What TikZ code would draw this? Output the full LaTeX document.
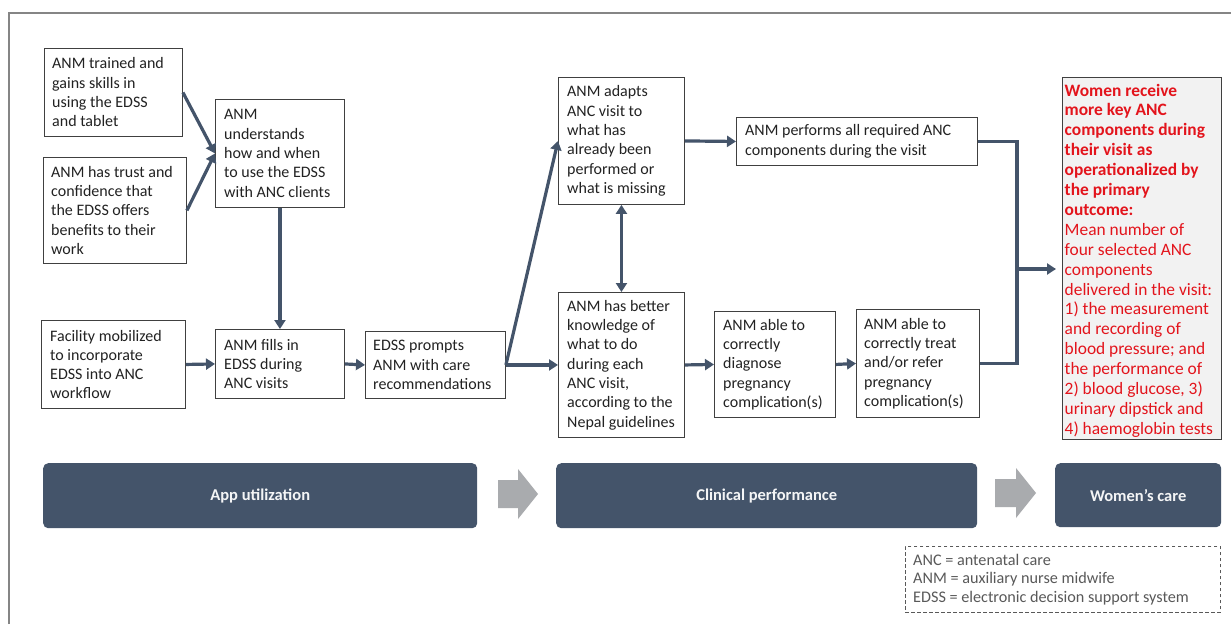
\documentclass[tikz,border=0pt]{standalone}
\usepackage{fontspec}
\setmainfont{Carlito}
\usetikzlibrary{arrows.meta,calc}
\definecolor{slate}{HTML}{44546A}
\definecolor{chev}{HTML}{A9ABAE}
\definecolor{bord}{HTML}{404040}
\definecolor{txt}{HTML}{222222}
\definecolor{redt}{HTML}{E3141C}
\definecolor{jfill}{HTML}{F2F2F2}
\definecolor{framec}{HTML}{858585}
\definecolor{legc}{HTML}{595959}
\newcommand\mybox[7]{%
  \node[boxshape, minimum width=#4pt, minimum height=#5pt] (#1) at (#2,#3) {};
  \node[boxtext] (#1t) at ([xshift=#6pt]#1.west) {#7};}
\begin{document}
\begin{tikzpicture}[x=1pt,y=-1pt,
  boxshape/.style={draw=bord, line width=0.9pt, anchor=north west, inner sep=0pt},
  boxtext/.style={anchor=west, align=left, inner sep=0pt, text=txt, font=\fontsize{16}{19.3}\selectfont},
  conn/.style={draw=slate, line width=3.2pt},
  arr/.style={conn, -{Triangle[length=9pt,width=11pt]}},
  dbl/.style={conn, {Triangle[length=9pt,width=11pt]}-{Triangle[length=9pt,width=11pt]}},
  bar/.style={fill=slate, rounded corners=5pt, anchor=north west, inner sep=0pt, text=white!94!slate, font=\fontsize{16.5}{19}\selectfont\bfseries},
  chevron/.style={fill=chev}
]
\useasboundingbox (0,0) rectangle (1231,624);
\fill[white] (0,0) rectangle (1231,624);
\draw[framec, line width=1.2pt] (9,624) -- (9,13) -- (1231,13);

\mybox{a1}{44}{48}{138}{88}{8}{ANM trained and\\gains skills in\\using the EDSS\\and tablet}
\mybox{a2}{43}{157}{143}{106}{8}{ANM has trust and\\confidence that\\the EDSS offers\\benefits to their\\work}
\mybox{b}{215}{99}{129}{108}{9}{ANM\\understands\\how and when\\to use the EDSS\\with ANC clients}
\mybox{fac}{41}{320}{144}{88}{9}{Facility mobilized\\to incorporate\\EDSS into ANC\\workflow}
\mybox{c}{215}{329}{129}{69}{9}{ANM fills in\\EDSS during\\ANC visits}
\mybox{d}{365}{331}{140}{67}{8}{EDSS prompts\\ANM with care\\recommendations}
\mybox{f}{558}{77}{126}{127}{9}{ANM adapts\\ANC visit to\\what has\\already been\\performed or\\what is missing}
\mybox{e}{558}{292}{126}{145}{9}{ANM has better\\knowledge of\\what to do\\during each\\ANC visit,\\according to the\\Nepal guidelines}
\mybox{g}{736}{117}{241}{48}{9}{ANM performs all required ANC\\components during the visit}
\mybox{h}{714}{311}{121}{106}{9}{ANM able to\\correctly\\diagnose\\pregnancy\\complication(s)}
\mybox{i}{856}{309}{123}{108}{8}{ANM able to\\correctly treat\\and/or refer\\pregnancy\\complication(s)}

\node[boxshape, fill=jfill, line width=1.1pt, minimum width=159pt, minimum height=362pt] (j) at (1062,77) {};
\node[boxtext, text=redt, font=\fontsize{17.4}{19.9}\selectfont] (jt) at ([xshift=2.5pt, yshift=-2pt]j.west) {\textbf{Women receive}\\\textbf{more key ANC}\\\textbf{components during}\\\textbf{their visit as}\\\textbf{operationalized by}\\\textbf{the primary}\\\textbf{outcome:}\\Mean number of\\four selected ANC\\components\\delivered in the visit:\\1) the measurement\\and recording of\\blood pressure; and\\the performance of\\2) blood glucose, 3)\\urinary dipstick and\\4) haemoglobin tests};

\draw[arr] (a1.east) -- (b.west);
\draw[arr] (a2.east) -- (b.west);
\draw[arr] (b.south) -- (c.north);
\draw[arr] (fac.east) -- (c.west);
\draw[arr] (c.east) -- (d.west);
\draw[arr] (d.east) -- (f.west);
\draw[arr] (d.east) -- (e.west);
\draw[dbl] (f.south) -- (e.north);
\draw[arr] (f.east) -- (g.west);
\draw[arr] (e.east) -- (h.west);
\draw[arr] (h.east) -- (i.west);
\coordinate (jn) at (1017,269);
\draw[conn] (g.east) -| (jn);
\draw[conn] (i.east) -| (jn);
\draw[arr, shorten >=6pt] (jn) -- (jn -| j.west);

\node[bar, minimum width=434pt, minimum height=65pt] (app) at (43,463) {App utilization};
\node[bar, minimum width=421pt, minimum height=65pt] (clin) at (556,463) {Clinical performance};
\node[bar, minimum width=166pt, minimum height=64pt] (wom) at (1055,463) {Women’s care};
\fill[chevron] (498,480) -- (518,480) -- (518,469) -- (538,494) -- (518,519) -- (518,508) -- (498,508) -- cycle;
\fill[chevron] (995,479) -- (1016,479) -- (1016,468) -- (1036,493) -- (1016,518) -- (1016,507) -- (995,507) -- cycle;

\node[draw=legc, line width=0.8pt, dash pattern=on 3.5pt off 2.5pt, anchor=north west, minimum width=315pt, minimum height=66pt, inner sep=0pt] (leg) at (905,546) {};
\node[anchor=west, align=left, inner sep=0pt, text=legc, font=\fontsize{16.2}{18.6}\selectfont] (legt) at ([xshift=8pt]leg.west) {ANC = antenatal care\\ANM = auxiliary nurse midwife\\EDSS = electronic decision support system};
\end{tikzpicture}
\end{document}
